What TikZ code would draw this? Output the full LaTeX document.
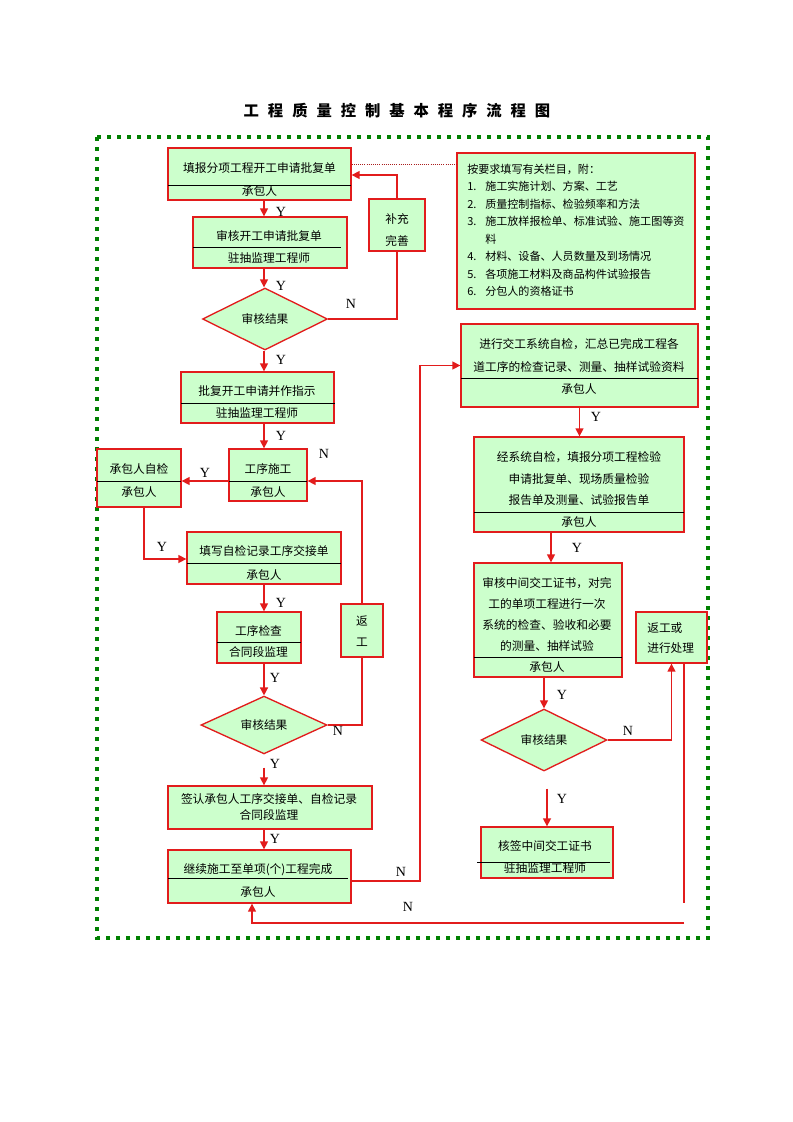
\documentclass[tikz,border=0pt]{standalone}
\usepackage{fontspec}
\setmainfont{Liberation Serif}
\newfontfamily\cjk{Noto Sans CJK SC}
\usetikzlibrary{arrows.meta,shapes.geometric,fit}
\definecolor{boxfill}{RGB}{204,255,204}
\definecolor{lred}{RGB}{226,28,28}
\definecolor{dgreen}{RGB}{0,128,0}
\definecolor{dotred}{RGB}{170,30,30}
\newcommand\ttgap{\hspace{6.7pt}}
\newcommand\numlab[1]{\makebox[13.5pt][l]{#1}}
\begin{document}
\begin{tikzpicture}[x=0.75pt,y=-0.75pt,
 box/.style={draw=lred, fill=boxfill, line width=1pt, inner sep=0pt},
 dia/.style={diamond, draw=lred, fill=boxfill, line width=1pt, inner sep=0pt, font=\cjk\fontsize{8.8}{10}\selectfont},
 txt/.style={font=\cjk\fontsize{8.8}{10}\selectfont, inner sep=0pt},
 ntxt/.style={font=\cjk\fontsize{8.3}{10}\selectfont, inner sep=0pt, anchor=west},
 lbl/.style={font=\fontsize{10.5}{12}\selectfont, inner sep=0pt},
 divl/.style={draw=black, line width=0.75pt},
 link/.style={draw=lred, line width=1.1pt},
 arr/.style={link, -{Triangle[length=6pt,width=6pt]}},
]
\useasboundingbox (0,0) rectangle (793,1122);
\fill[white] (0,0) rectangle (793,1122);

% title
\node[font=\cjk\bfseries\fontsize{11.5}{13}\selectfont, inner sep=0pt] (title) at (397,111)
 {工\ttgap 程\ttgap 质\ttgap 量\ttgap 控\ttgap 制\ttgap 基\ttgap 本\ttgap 程\ttgap 序\ttgap 流\ttgap 程\ttgap 图};

% frame
\draw[dgreen, line width=3pt, dash pattern=on 3pt off 4.5pt] (97,137) rectangle (708,938);

% ---------- left column ----------
\node[box, fit={(168,148) (351,200)}] (b1) {};
\draw[divl] (168,185) -- (351,185);
\node[txt] (b1t) at (259.5,168) {填报分项工程开工申请批复单};
\node[txt] (b1s) at (259.5,191) {承包人};

\node[box, fit={(193,217) (347,268)}] (b2) {};
\draw[divl] (193,247) -- (341,247);
\node[txt] (b2t) at (269,236) {审核开工申请批复单};
\node[txt] (b2s) at (269,258) {驻抽监理工程师};

\node[box, fit={(369,199) (425,251)}] (bc) {};
\node[txt] (bct) at (397,219) {补充};
\node[txt] (bcs) at (397,241) {完善};

\node[dia, minimum width=93.75pt, minimum height=46.5pt] (d1) at (265,319) {审核结果};

\node[box, fit={(181,372) (334,423)}] (b3) {};
\draw[divl] (181,403) -- (335,403);
\node[txt] (b3t) at (257,391) {批复开工申请并作指示};
\node[txt] (b3s) at (257,413) {驻抽监理工程师};

\node[box, fit={(229,449) (307,501)}] (b4) {};
\draw[divl] (229,481) -- (307,481);
\node[txt] (b4t) at (268,469) {工序施工};
\node[txt] (b4s) at (268,492) {承包人};

\node[box, fit={(97,449) (181,507)}] (b5) {};
\draw[divl] (97,481) -- (181,481);
\node[txt] (b5t) at (139,469) {承包人自检};
\node[txt] (b5s) at (139,492) {承包人};

\node[box, fit={(187,532) (341,584)}] (b6) {};
\draw[divl] (187,563) -- (341,563);
\node[txt] (b6t) at (264,551) {填写自检记录工序交接单};
\node[txt] (b6s) at (264,575) {承包人};

\node[box, fit={(217,612) (301,663)}] (b7) {};
\draw[divl] (217,642) -- (301,642);
\node[txt] (b7t) at (258.5,631) {工序检查};
\node[txt] (b7s) at (258.5,652) {合同段监理};

\node[box, fit={(341,604) (383,657)}] (rw) {};
\node[txt] (rwt) at (362,621) {返};
\node[txt] (rws) at (362,642) {工};

\node[dia, minimum width=94.5pt, minimum height=39pt] (d2) at (264,725) {审核结果};

\node[box, fit={(168,786) (372,829)}] (b8) {};
\node[txt] (b8t) at (269,799) {签认承包人工序交接单、自检记录};
\node[txt] (b8s) at (269,815) {合同段监理};

\node[box, fit={(168,850) (351,903)}] (b9) {};
\draw[divl] (168,878) -- (348,878);
\node[txt] (b9t) at (258,870) {继续施工至单项(个)工程完成};
\node[txt] (b9s) at (258,892) {承包人};

% ---------- note ----------
\node[box, fit={(457,153) (695,309)}] (note) {};
\node[ntxt] (n1) at (467,169) {按要求填写有关栏目，附：};
\node[ntxt] (n2) at (467,186.5) {\numlab{1.}施工实施计划、方案、工艺};
\node[ntxt] (n3) at (467,204) {\numlab{2.}质量控制指标、检验频率和方法};
\node[ntxt] (n4) at (467,221.5) {\numlab{3.}施工放样报检单、标准试验、施工图等资};
\node[ntxt] (n5) at (485,239) {料};
\node[ntxt] (n6) at (467,256.5) {\numlab{4.}材料、设备、人员数量及到场情况};
\node[ntxt] (n7) at (467,274) {\numlab{5.}各项施工材料及商品构件试验报告};
\node[ntxt] (n8) at (467,291.5) {\numlab{6.}分包人的资格证书};

% ---------- right column ----------
\node[box, fit={(461,324) (698,407)}] (bA) {};
\draw[divl] (461,378) -- (698,378);
\node[txt] (bAt1) at (579,344) {进行交工系统自检，汇总已完成工程各};
\node[txt] (bAt2) at (579,367) {道工序的检查记录、测量、抽样试验资料};
\node[txt] (bAs) at (579,389) {承包人};

\node[box, fit={(474,437) (684,532)}] (bB) {};
\draw[divl] (474,512) -- (684,512);
\node[txt] (bBt1) at (579,457) {经系统自检，填报分项工程检验};
\node[txt] (bBt2) at (579,479) {申请批复单、现场质量检验};
\node[txt] (bBt3) at (579,500) {报告单及测量、试验报告单};
\node[txt] (bBs) at (579,522) {承包人};

\node[box, fit={(474,563) (622,677)}] (bC) {};
\draw[divl] (474,657) -- (622,657);
\node[txt] (bCt1) at (547,583) {审核中间交工证书，对完};
\node[txt] (bCt2) at (547,604) {工的单项工程进行一次};
\node[txt] (bCt3) at (547,625) {系统的检查、验收和必要};
\node[txt] (bCt4) at (547,646) {的测量、抽样试验};
\node[txt] (bCs) at (547,667) {承包人};

\node[dia, minimum width=94.5pt, minimum height=46.5pt] (d3) at (544,740) {审核结果};

\node[box, fit={(636,612) (707,663)}] (rp) {};
\node[txt, anchor=west] (rpt) at (647,628) {返工或};
\node[txt, anchor=west] (rps) at (647,648) {进行处理};

\node[box, fit={(481,827) (613,878)}] (bD) {};
\draw[divl] (477,862) -- (610,862);
\node[txt] (bDt) at (545,846) {核签中间交工证书};
\node[txt] (bDs) at (545,868) {驻抽监理工程师};

% ---------- connectors ----------
\coordinate (cl) at (264,0);
\coordinate (nbend) at (420,365.5);
\coordinate (e1) at (684,903);
\coordinate (e2) at (684,923);

\draw[dotred, densely dotted, line width=0.6pt] (b1.east |- 0,164) -- (note.west |- 0,164);

\draw[arr] (b1.south -| cl) -- (b2.north -| cl);
\draw[arr] (b2.south -| cl) -- (d1.north -| cl);
\draw[link] (d1.east) -| (bc.south);
\draw[arr] (bc.north) |- (b1.east |- 0,175);
\draw[arr] (d1.south -| cl) -- (b3.north -| cl);
\draw[arr] (b3.south -| cl) -- (b4.north -| cl);
\draw[arr] (b4.west |- 0,481) -- (b5.east |- 0,481);
\draw[arr] (b5.south -| 144,0) |- (b6.west |- 0,559);
\draw[arr] (b6.south -| cl) -- (b7.north -| cl);
\draw[arr] (b7.south -| cl) -- (d2.north -| cl);
\draw[link] (d2.east) -| (rw.south);
\draw[arr] (rw.north) |- (b4.east |- 0,481);
\draw[arr, shorten <=9.75pt] (d2.south -| cl) -- (b8.north -| cl);
\draw[arr] (b8.south -| cl) -- (b9.north -| cl);
\draw[arr] (b9.east |- 0,881) -| (nbend) -- (bA.west);

\draw[arr] (bA.south) -- (bB.north -| bA.south);
\draw[arr] (bB.south -| 551,0) -- (bC.north -| 551,0);
\draw[arr] (bC.south -| d3.north) -- (d3.north);
\draw[arr] (d3.east) -| (rp.south);
\draw[arr, shorten <=12.75pt] (d3.south -| 547,0) -- (bD.north -| 547,0);
\draw[link] (rp.south -| e1) -- (e1);
\draw[arr] (e2) -| (b9.south -| 252,0);

% ---------- labels ----------
\node[lbl] (y1) at (281,212) {Y};
\node[lbl] (y2) at (281,286) {Y};
\node[lbl] (nn1) at (351,304) {N};
\node[lbl] (y3) at (281,360) {Y};
\node[lbl] (y4) at (281,436) {Y};
\node[lbl] (nn2) at (324,454) {N};
\node[lbl] (y5) at (205,473) {Y};
\node[lbl] (y6) at (162,547) {Y};
\node[lbl] (y7) at (281,603) {Y};
\node[lbl] (y8) at (275,678) {Y};
\node[lbl] (nn3) at (338,731) {N};
\node[lbl] (y9) at (275,764) {Y};
\node[lbl] (y10) at (275,839) {Y};
\node[lbl] (nn4) at (401,872) {N};
\node[lbl] (nn5) at (408,907) {N};
\node[lbl] (y11) at (596,417) {Y};
\node[lbl] (y12) at (577,548) {Y};
\node[lbl] (y13) at (562,695) {Y};
\node[lbl] (nn6) at (628,731) {N};
\node[lbl] (y14) at (562,799) {Y};
\end{tikzpicture}
\end{document}
